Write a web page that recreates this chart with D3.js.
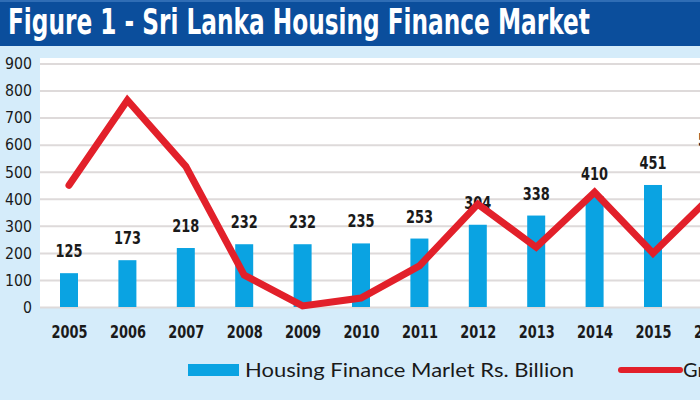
<!DOCTYPE html>
<html>
<head>
<meta charset="utf-8">
<script src="https://cdn.jsdelivr.net/npm/d3@7"></script>
<style>
  html, body { margin: 0; padding: 0; background: #d5ecfa; overflow: hidden; }
  svg { display: block; }
  .narrow { font-family: "Liberation Sans Narrow", "DejaVu Sans Condensed", "Arial Narrow", sans-serif; font-stretch: condensed; }
</style>
</head>
<body>
<svg id="chart" width="700" height="400"></svg>
<script>
const titleText = "Figure 1 - Sri Lanka Housing Finance Market";
const years = ["2005","2006","2007","2008","2009","2010","2011","2012","2013","2014","2015","2016"];
const marketValues = [125, 173, 218, 232, 232, 235, 253, 304, 338, 410, 451, 536];
const growthValues = [450, 764, 520, 118, 4, 33, 152, 380, 221, 424, 199, 410];
const yTicks = [0, 100, 200, 300, 400, 500, 600, 700, 800, 900];
const legendBarLabel = "Housing Finance Marlet Rs. Billion";
const legendLineLabel = "Growth Rate";

const W = 700, H = 400;
const svg = d3.select("#chart");

// background
svg.append("rect").attr("width", W).attr("height", H).attr("fill", "#d5ecfa");

// title bar
svg.append("rect").attr("x", 0).attr("y", 0).attr("width", W).attr("height", 46).attr("fill", "#0b4e9c");
svg.append("rect").attr("x", 0).attr("y", 0).attr("width", W).attr("height", 2).attr("fill", "#2f6db5");
const title = svg.append("text").attr("class", "narrow")
  .attr("x", 0).attr("y", 0)
  .attr("fill", "#ffffff")
  .attr("font-size", 35).attr("font-weight", "bold")
  .text(titleText);
const natW = title.node().getComputedTextLength();
title.attr("transform", `translate(8,34) scale(${582 / natW},1)`);

// plot area
const plot = { left: 40, right: 700, top: 58, bottom: 308 };
svg.append("rect").attr("x", plot.left).attr("y", plot.top)
  .attr("width", plot.right - plot.left).attr("height", plot.bottom - plot.top)
  .attr("fill", "#ffffff");

const x = d3.scalePoint().domain(years).range([69, 69 + 58.4 * (years.length - 1)]);
const y = d3.scaleLinear().domain([0, 900]).range([307, 63.5]);

// gridlines
const grid = svg.append("g").attr("transform", `translate(${plot.left},0)`)
  .call(d3.axisRight(y).tickValues(yTicks).tickSize(plot.right - plot.left).tickFormat(""));
grid.select(".domain").remove();
grid.selectAll(".tick line").attr("stroke", "#dedada").attr("stroke-width", 2);

// y axis labels
const yAxis = svg.append("g").attr("transform", `translate(32,0)`)
  .call(d3.axisLeft(y).tickValues(yTicks).tickSize(0).tickPadding(0).tickFormat(d3.format("d")));
yAxis.select(".domain").remove();
yAxis.selectAll("text").attr("class", "narrow")
  .attr("font-size", 16.5).attr("fill", "#1a1a1a")
  .attr("textLength", (d) => String(d).length * 9).attr("lengthAdjust", "spacingAndGlyphs");

// bars
const barW = 18;
svg.append("g").selectAll("rect").data(years).join("rect")
  .attr("x", (d) => x(d) - barW / 2)
  .attr("y", (d, i) => y(marketValues[i]))
  .attr("width", barW)
  .attr("height", (d, i) => y(0) - y(marketValues[i]))
  .attr("fill", "#0aa3e2");

// bar value labels
svg.append("g").selectAll("text").data(years).join("text")
  .attr("class", "narrow")
  .attr("x", (d) => x(d))
  .attr("y", (d, i) => y(marketValues[i]) - 16)
  .attr("text-anchor", "middle")
  .attr("font-size", 17).attr("font-weight", "bold").attr("fill", "#1a1a1a")
  .attr("textLength", (d, i) => String(marketValues[i]).length * 9).attr("lengthAdjust", "spacingAndGlyphs")
  .text((d, i) => marketValues[i]);

// growth line
const line = d3.line().x((d, i) => x(years[i])).y((d) => y(d));
svg.append("path").datum(growthValues)
  .attr("d", line)
  .attr("fill", "none")
  .attr("stroke", "#e2202a")
  .attr("stroke-width", 7)
  .attr("stroke-linejoin", "miter")
  .attr("stroke-linecap", "round");

// x axis labels
const xAxis = svg.append("g").attr("transform", `translate(0,325)`)
  .call(d3.axisBottom(x).tickSize(0).tickPadding(0));
xAxis.select(".domain").remove();
xAxis.selectAll("text").attr("class", "narrow")
  .attr("font-size", 18.5).attr("font-weight", "bold").attr("fill", "#1a1a1a")
  .attr("textLength", 36).attr("lengthAdjust", "spacingAndGlyphs");

// legend
svg.append("rect").attr("x", 188).attr("y", 364).attr("width", 51).attr("height", 12).attr("fill", "#0aa3e2");
svg.append("text")
  .attr("x", 245).attr("y", 377)
  .attr("font-family", "Lato, 'Open Sans', sans-serif")
  .attr("font-size", 20).attr("fill", "#1a1a1a")
  .attr("textLength", 329).attr("lengthAdjust", "spacingAndGlyphs")
  .text(legendBarLabel);
svg.append("line").attr("x1", 621).attr("x2", 680).attr("y1", 370).attr("y2", 370)
  .attr("stroke", "#e2202a").attr("stroke-width", 6).attr("stroke-linecap", "round");
svg.append("text")
  .attr("x", 683).attr("y", 377)
  .attr("font-family", "Lato, 'Open Sans', sans-serif")
  .attr("font-size", 20).attr("fill", "#1a1a1a")
  .text(legendLineLabel);
</script>
</body>
</html>
